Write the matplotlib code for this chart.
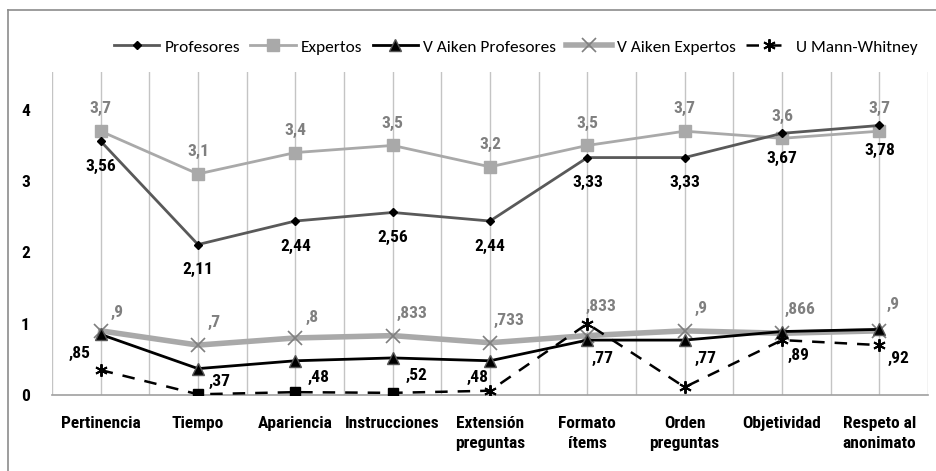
import numpy as np
import matplotlib.pyplot as plt
from matplotlib.lines import Line2D

plt.rcParams['font.family'] = ['Roboto Condensed', 'IBM Plex Sans Condensed', 'DejaVu Sans']

categorias = ['Pertinencia', 'Tiempo', 'Apariencia', 'Instrucciones', 'Extensión\npreguntas',
              'Formato\nítems', 'Orden\npreguntas', 'Objetividad', 'Respeto al\nanonimato']
profesores = [3.56, 2.11, 2.44, 2.56, 2.44, 3.33, 3.33, 3.67, 3.78]
expertos = [3.7, 3.1, 3.4, 3.5, 3.2, 3.5, 3.7, 3.6, 3.7]
aiken_prof = [0.85, 0.37, 0.48, 0.52, 0.48, 0.77, 0.77, 0.89, 0.92]
aiken_exp = [0.9, 0.7, 0.8, 0.833, 0.733, 0.833, 0.9, 0.866, 0.9]
mann_whitney = [0.35, 0.01, 0.04, 0.03, 0.06, 1.0, 0.11, 0.77, 0.70]

lbl_prof = ['3,56', '2,11', '2,44', '2,56', '2,44', '3,33', '3,33', '3,67', '3,78']
lbl_exp = ['3,7', '3,1', '3,4', '3,5', '3,2', '3,5', '3,7', '3,6', '3,7']
lbl_aprof = [',85', ',37', ',48', ',52', ',48', ',77', ',77', ',89', ',92']
lbl_aexp = [',9', ',7', ',8', ',833', ',733', ',833', ',9', ',866', ',9']

x = np.arange(len(categorias)) + 0.5

fig = plt.figure(figsize=(9.37, 4.71), dpi=100)
ax = fig.add_axes([52/937, 1-395/471, 876/937, 323/471])

# marco exterior
fig.add_artist(Line2D([8/937, 8/937], [0, 1-10/471], color='#8c8c8c', lw=1.2))
fig.add_artist(Line2D([8/937, 1], [1-10/471, 1-10/471], color='#8c8c8c', lw=1.2))

# lineas de division verticales
for gx in np.arange(0, 9.01, 0.5):
    ax.axvline(gx, color='#c4c4c4', lw=1, zorder=0)

ax.plot(x, expertos, color='#a9a9a9', lw=2, marker='s', ms=8, mfc='#a9a9a9', mec='#a9a9a9', label='Expertos', zorder=3)
ax.plot(x, profesores, color='#595959', lw=2, marker='D', ms=4.5, mfc='black', mec='black', label='Profesores', zorder=4)
ax.plot(x, aiken_exp, color='#a9a9a9', lw=4, marker='x', ms=10, mec='#7f7f7f', mew=1.2, label='V Aiken Expertos', zorder=3)
ax.plot(x, aiken_prof, color='black', lw=2, marker='^', ms=8, mfc='black', mec='#555555', label='V Aiken Profesores', zorder=4)
ax.plot(x, mann_whitney, color='black', lw=1.8, ls=(0, (5, 4)), marker=(6, 2, 0), ms=9, mew=1.4,
        markevery=[0, 4, 5, 6, 7, 8], label='U Mann-Whitney', zorder=5)
ax.plot(x[1:4], np.array(mann_whitney)[1:4], ls='none', marker='s', ms=7, color='black', zorder=6)

# etiquetas de datos
for i in range(len(x)):
    ax.annotate(lbl_exp[i], (x[i], expertos[i]), xytext=(0, 16), textcoords='offset points',
                ha='center', va='center', fontsize=12.5, color='#7f7f7f', fontweight='bold')
    ax.annotate(lbl_prof[i], (x[i], profesores[i]), xytext=(0, -18), textcoords='offset points',
                ha='center', va='center', fontsize=12.5, color='black', fontweight='bold')

off_aexp = [(12, 13), (12, 16), (12, 15), (14, 16), (14, 16), (10, 21), (12, 16), (13, 17), (10, 19)]
off_aprof = [(-15, -14), (16, -9), (17, -12), (17, -13), (-9, -12), (11, -13), (15, -13), (12, -17), (14, -21)]
for i in range(len(x)):
    ax.annotate(lbl_aexp[i], (x[i], aiken_exp[i]), xytext=off_aexp[i], textcoords='offset points',
                ha='center', va='center', fontsize=12.5, color='#7f7f7f', fontweight='bold')
    ax.annotate(lbl_aprof[i], (x[i], aiken_prof[i]), xytext=off_aprof[i], textcoords='offset points',
                ha='center', va='center', fontsize=12.5, color='black', fontweight='bold')

ax.set_xlim(0, 9)
ax.set_ylim(0, 4.53)
ax.set_xticks(x)
ax.set_xticklabels(categorias, fontsize=12.5, fontweight='bold', linespacing=1.45)
ax.set_yticks([0, 1, 2, 3, 4])
ax.set_yticklabels(['0', '1', '2', '3', '4'], fontsize=12.5, fontweight='bold')
ax.tick_params(axis='x', length=0, pad=15)
ax.tick_params(axis='y', length=0, pad=16)
for s in ['top', 'right', 'left']:
    ax.spines[s].set_visible(False)
ax.spines['bottom'].set_color('#a0a0a0')
ax.spines['bottom'].set_linewidth(1.2)
ax.set_facecolor('none')

handles, labels = ax.get_legend_handles_labels()
order = [1, 0, 3, 2, 4]
fig.legend([handles[k] for k in order], [labels[k] for k in order], loc='center',
           bbox_to_anchor=(516/937, 1-47/471), ncol=5, frameon=False,
           prop={'family': ['Carlito', 'DejaVu Sans'], 'size': 12.5},
           handlelength=2.6, columnspacing=0.6, handletextpad=0.3)

fig.savefig('out.png', dpi=100)
